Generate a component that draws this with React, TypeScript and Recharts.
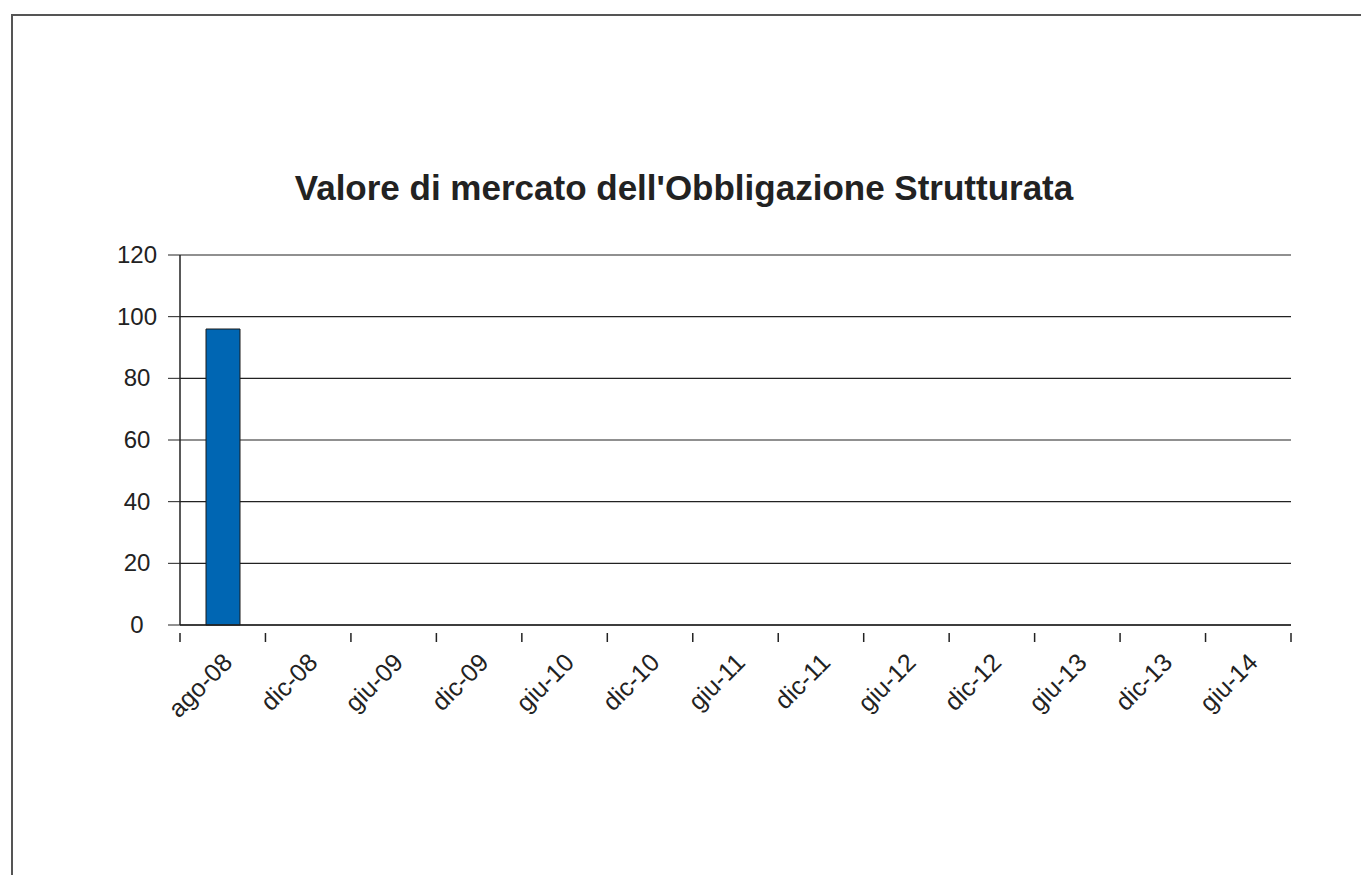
import { Bar, BarChart, CartesianGrid, XAxis, YAxis } from "recharts";

const categories = ["ago-08", "dic-08", "giu-09", "dic-09", "giu-10", "dic-10", "giu-11", "dic-11", "giu-12", "dic-12", "giu-13", "dic-13", "giu-14"];
const marketValue: (number | null)[] = [96, null, null, null, null, null, null, null, null, null, null, null, null];
const yTicks = [0, 20, 40, 60, 80, 100, 120];

const data = categories.map((name, i) => ({ name, value: marketValue[i] }));

const FONT = "'Liberation Sans', Arial, sans-serif";

function CategoryTick(props: any) {
  const { x, y, payload, index } = props;
  const half = payload.offset ?? 0;
  const tx = x + 11;
  const ty = y + 31;
  return (
    <g>
      <line x1={x - half} x2={x - half} y1={y} y2={y + 9} stroke="#222" strokeWidth={1.5} />
      {index === categories.length - 1 && (
        <line x1={x + half} x2={x + half} y1={y} y2={y + 9} stroke="#222" strokeWidth={1.5} />
      )}
      <text x={tx} y={ty} transform={`rotate(-45 ${tx} ${ty})`} textAnchor="end" fontSize={25} fontFamily={FONT} fill="#222">
        {payload.value}
      </text>
    </g>
  );
}

function ValueTick(props: any) {
  const { x, y, payload } = props;
  return (
    <text x={x} y={y} dy={8} textAnchor="middle" fontSize={24} fontFamily={FONT} fill="#222">
      {payload.value}
    </text>
  );
}

export default function App() {
  return (
    <div style={{ position: "fixed", left: 0, top: 0, width: 1361, height: 875, overflow: "hidden", background: "#fff" }}>
      <div
        style={{
          position: "absolute",
          left: 11,
          top: 14,
          width: 1400,
          height: 900,
          borderTop: "2px solid #555",
          borderLeft: "2px solid #555",
        }}
      />
      <div
        style={{
          position: "absolute",
          left: 0,
          top: 168,
          width: 1368,
          textAlign: "center",
          fontFamily: FONT,
          fontWeight: "bold",
          fontSize: 35,
          color: "#222",
        }}
      >
        Valore di mercato dell'Obbligazione Strutturata
      </div>
      <div style={{ position: "absolute", left: 0, top: 0 }}>
        <BarChart width={1361} height={875} data={data} margin={{ top: 255, right: 70, bottom: 130, left: 0 }}>
          <CartesianGrid vertical={false} stroke="#222" strokeWidth={1.2} />
          <XAxis
            dataKey="name"
            interval={0}
            height={120}
            axisLine={{ stroke: "#222", strokeWidth: 1.5 }}
            tickLine={false}
            tick={<CategoryTick />}
          />
          <YAxis
            width={180}
            domain={[0, 120]}
            ticks={yTicks}
            interval={0}
            tickSize={12}
            tickMargin={31}
            axisLine={{ stroke: "#222", strokeWidth: 1.5 }}
            tickLine={{ stroke: "#222" }}
            tick={<ValueTick />}
          />
          <Bar dataKey="value" fill="#0066b3" stroke="#1a1a1a" strokeWidth={1} barSize={34} isAnimationActive={false} />
        </BarChart>
      </div>
    </div>
  );
}
